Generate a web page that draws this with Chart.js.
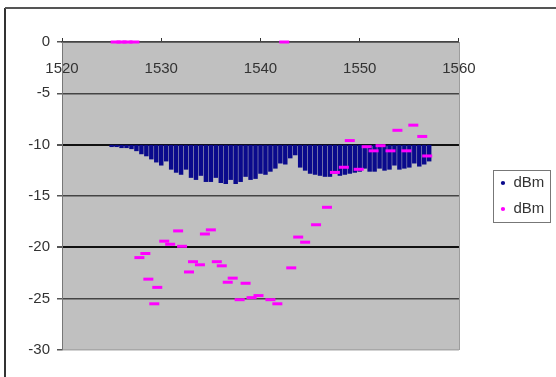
<!DOCTYPE html>
<html>
<head>
<meta charset="utf-8">
<script src="https://cdn.jsdelivr.net/npm/chart.js@4"></script>
<style>
  html, body { margin: 0; padding: 0; background: #fff; }
  #wrap { position: relative; width: 556px; height: 377px; }
  #legendBox { position: absolute; left: 493px; top: 170px; width: 56px; height: 51px;
    border: 1.5px solid #777; pointer-events: none; }
</style>
</head>
<body>
<div id="wrap"><canvas id="spectrum" width="556" height="377"></canvas><div id="legendBox"></div></div>
<script>
// channel wavelengths (nm) and depth of each channel dip (dBm), blue trace
var channelNm = [1525.0, 1525.5, 1526.0, 1526.5, 1527.0, 1527.5, 1528.0, 1528.5, 1529.0, 1529.5,
  1530.0, 1530.5, 1531.0, 1531.5, 1532.0, 1532.5, 1533.0, 1533.5, 1534.0, 1534.5,
  1535.0, 1535.5, 1536.0, 1536.5, 1537.0, 1537.5, 1538.0, 1538.5, 1539.0, 1539.5,
  1540.0, 1540.5, 1541.0, 1541.5, 1542.0, 1542.5, 1543.0, 1543.5, 1544.0, 1544.5,
  1545.0, 1545.5, 1546.0, 1546.5, 1547.0, 1547.5, 1548.0, 1548.5, 1549.0, 1549.5,
  1550.0, 1550.5, 1551.0, 1551.5, 1552.0, 1552.5, 1553.0, 1553.5, 1554.0, 1554.5,
  1555.0, 1555.5, 1556.0, 1556.5, 1557.0];
var channelTop = -10.05;
var channelLow = [-10.2, -10.2, -10.3, -10.3, -10.4, -10.6, -10.9, -11.1, -11.4, -11.7,
  -12.0, -11.6, -12.4, -12.7, -12.9, -12.4, -13.2, -13.4, -13.0, -13.6,
  -13.6, -13.2, -13.7, -13.8, -13.4, -13.8, -13.6, -13.1, -13.4, -13.3,
  -12.8, -12.9, -12.6, -12.3, -11.8, -11.9, -11.3, -11.0, -12.2, -12.5,
  -12.8, -12.9, -13.0, -13.1, -13.1, -12.8, -13.0, -12.9, -12.8, -12.7,
  -12.6, -12.3, -12.6, -12.6, -12.3, -12.5, -12.4, -12.0, -12.4, -12.3,
  -12.2, -11.8, -12.1, -11.9, -11.6];

// magenta series
var pinkNm = [1525.4, 1526.0, 1526.6, 1527.3, 1542.4,
  1527.8, 1528.4, 1528.7, 1529.6, 1529.3, 1530.3, 1530.9, 1531.7, 1532.1, 1532.8,
  1533.2, 1533.9, 1534.4, 1535.0, 1535.6, 1536.1, 1536.7, 1537.2, 1538.5, 1537.9,
  1539.1, 1539.8, 1541.0, 1541.7, 1543.1, 1543.8, 1544.5, 1545.6, 1546.7, 1547.5,
  1548.4, 1549.0, 1549.9, 1550.7, 1551.4, 1552.1, 1553.1, 1553.8, 1554.7, 1555.4,
  1556.3, 1556.8];
var pinkDbm = [0, 0, 0, 0, 0,
  -21.0, -20.6, -23.1, -23.9, -25.5, -19.4, -19.7, -18.4, -19.9, -22.4,
  -21.4, -21.7, -18.7, -18.3, -21.4, -21.8, -23.4, -23.0, -23.5, -25.1,
  -24.9, -24.7, -25.1, -25.5, -22.0, -19.0, -19.5, -17.8, -16.1, -12.7,
  -12.2, -9.6, -12.4, -10.2, -10.6, -10.1, -10.6, -8.6, -10.6, -8.1,
  -9.2, -11.1];

var seriesLabels = ['dBm', 'dBm'];

Chart.defaults.font.family = '"Liberation Sans", Arial, sans-serif';
Chart.defaults.font.size = 15;
Chart.defaults.color = '#333';

var blueData = channelNm.map(function (nm, i) {
  return { x: nm, y: [channelTop, channelLow[i]] };
});
var pinkData = pinkNm.map(function (nm, i) {
  return { x: nm, y: pinkDbm[i] };
});

var frame = {
  id: 'frame',
  beforeDraw: function (chart) {
    var c = chart.ctx, a = chart.chartArea;
    c.save();
    c.fillStyle = '#fff';
    c.fillRect(0, 0, chart.width, chart.height);
    c.fillStyle = '#c0c0c0';
    c.fillRect(a.left, a.top, a.right - a.left, a.bottom - a.top);
    c.strokeStyle = '#999';
    c.lineWidth = 1;
    c.beginPath();
    c.moveTo(a.right + 0.5, a.top);
    c.lineTo(a.right + 0.5, a.bottom);
    c.stroke();
    c.lineWidth = 2;
    c.strokeStyle = '#333';
    c.beginPath();
    c.moveTo(5, 8);
    c.lineTo(5, chart.height);
    c.stroke();
    c.strokeStyle = '#555';
    c.beginPath();
    c.moveTo(5, 8);
    c.lineTo(chart.width, 8);
    c.stroke();
    c.restore();
  }
};

var ctx = document.getElementById('spectrum').getContext('2d');
var myChart = new Chart(ctx, {
  type: 'scatter',
  data: {
    datasets: [{
      type: 'bar',
      label: seriesLabels[0],
      data: blueData,
      backgroundColor: '#0a0a8c',
      borderWidth: 0,
      barThickness: 3.8,
      order: 1
    }, {
      label: seriesLabels[1],
      data: pinkData,
      pointStyle: 'line',
      pointRadius: 5,
      pointBorderWidth: 3,
      borderColor: '#ff00ff',
      backgroundColor: '#ff00ff',
      clip: false,
      order: 0
    }]
  },
  plugins: [frame],
  options: {
    animation: false,
    responsive: false,
    layout: { padding: { left: 0, top: 0, right: 1.7, bottom: 27 } },
    scales: {
      x: {
        type: 'linear',
        position: 'top',
        min: 1520,
        max: 1560,
        offset: false,
        ticks: {
          stepSize: 10,
          mirror: true,
          padding: 18,
          callback: function (v) { return String(v); }
        },
        grid: { drawOnChartArea: false, offset: false, tickLength: 4, tickColor: '#333' },
        border: { color: '#444', width: 1.5 },
        afterFit: function (s) { s.height = 42; }
      },
      y: {
        type: 'linear',
        min: -30,
        max: 0,
        beginAtZero: false,
        ticks: {
          stepSize: 5,
          padding: 7,
          callback: function (v) { return v === 0 ? '0' : String(v); }
        },
        grid: {
          tickLength: 5,
          tickColor: '#555',
          lineWidth: function (c) { return (c.tick && (c.tick.value === -10 || c.tick.value === -20)) ? 2 : 1.5; },
          color: function (c) {
            if (!c.tick) return '#444';
            var v = c.tick.value;
            if (v === -30) return '#a8a8a8';
            if (v === -10 || v === -20) return '#111';
            return '#444';
          }
        },
        border: { color: '#777', width: 1 },
        afterFit: function (s) { s.width = 62; }
      },
      gap: {
        type: 'linear',
        position: 'right',
        display: true,
        grid: { display: false },
        ticks: { display: false },
        border: { display: false },
        afterFit: function (s) { s.width = 30; }
      }
    },
    plugins: {
      tooltip: { enabled: false },
      legend: {
        position: 'right',
        fullSize: false,
        labels: {
          usePointStyle: true,
          boxWidth: 6,
          boxHeight: 3,
          padding: 11,
          color: '#333',
          sort: function (a, b) { return a.datasetIndex - b.datasetIndex; },
          generateLabels: function (chart) {
            var items = Chart.defaults.plugins.legend.labels.generateLabels(chart);
            items.forEach(function (it) {
              it.pointStyle = 'circle';
              it.lineWidth = 0;
              it.strokeStyle = it.fillStyle;
            });
            return items;
          }
        }
      }
    }
  }
});
</script>
</body>
</html>
